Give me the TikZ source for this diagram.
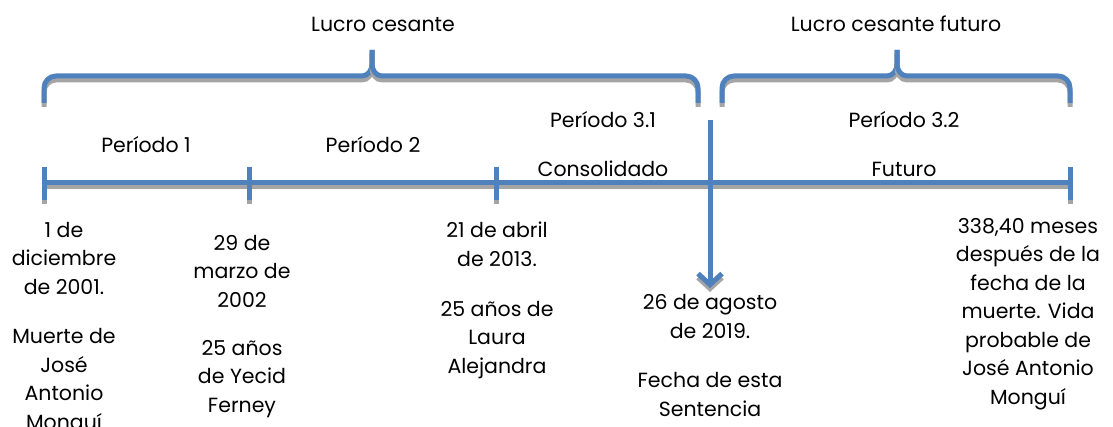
\documentclass[tikz,border=0pt]{standalone}
\usepackage{fontspec}
\setmainfont{Poppins}
\usetikzlibrary{arrows.meta}
\definecolor{lineblue}{RGB}{79,129,189}
\definecolor{shade}{RGB}{165,165,165}

\begin{document}
\begin{tikzpicture}
	[	x=1pt, y=-1pt,
		bar/.style={draw=lineblue,line width=5pt,preaction={draw=shade,line width=5pt,transform canvas={yshift=-4pt}}},
		brc/.style={bar,line join=round},
		txt/.style={font=\fontsize{20.5}{28.5}\selectfont,inner sep=0pt,anchor=base},
		datetxt/.style={txt,align=center}	]
	\useasboundingbox (0,0) rectangle (1113,427);
	% timeline
	\coordinate (t0) at (44,183);
	\coordinate (t1) at (249,183);
	\coordinate (t2) at (496,183);
	\coordinate (t3) at (710,183);
	\coordinate (t4) at (1070,183);
	\draw[bar] (t0) -- (t1) -- (t2) -- (t3) -- (t4);
	\foreach \t in {t0,t1,t2,t4}
		\draw[bar] (\t) ++(0,-16) -- ++(0,33);
	% sentence date
	\coordinate (s0) at (710,120);
	\coordinate (s1) at (710,288);
	\draw[bar,-{Straight Barb[length=11pt,width=24pt]}] (s0) -- (s1);
	% braces
	\draw[brc] (44,103) -- (44,88) to[out=90,in=180] (56,76) -- (362,76) to[out=0,in=-90] (372,64) -- (372,50);
	\draw[brc] (372,50) -- (372,64) to[out=-90,in=180] (382,76) -- (686,76) to[out=0,in=90] (698,88) -- (698,103);
	\draw[brc] (722,103) -- (722,88) to[out=90,in=180] (734,76) -- (887,76) to[out=0,in=-90] (897,64) -- (897,50);
	\draw[brc] (897,50) -- (897,64) to[out=-90,in=180] (907,76) -- (1058,76) to[out=0,in=90] (1070,88) -- (1070,103);
	% labels
	\node[txt] (lucro) at (383,32) {Lucro cesante};
	\node[txt] (futlucro) at (896,32) {Lucro cesante futuro};
	\node[txt] (per1) at (146,153) {Período 1};
	\node[txt] (per2) at (373,153) {Período 2};
	\node[txt] (per31) at (603,128) {Período 3.1};
	\node[txt] (consol) at (603,177) {Consolidado};
	\node[txt] (per32) at (904,128) {Período 3.2};
	\node[txt] (futuro) at (904,177) {Futuro};
	% dates (base = last line)
	\node[datetxt] (d1) at (64,429) {1 de\\diciembre\\de 2001.\\[21pt]Muerte de\\José\\Antonio\\Monguí};
	\node[datetxt] (d2) at (242,412) {29 de\\marzo de\\2002\\[19.5pt]25 años\\de Yecid\\Ferney};
	\node[datetxt] (d3) at (497,373) {21 de abril\\de 2013.\\[21pt]25 años de\\Laura\\Alejandra};
	\node[datetxt] (d4) at (710,416) {26 de agosto\\de 2019.\\[21pt]Fecha de esta\\Sentencia};
	\node[datetxt] (d5) at (1028,404) {338,40 meses\\después de la\\fecha de la\\muerte. Vida\\probable de\\José Antonio\\Monguí};
\end{tikzpicture}
\end{document}
